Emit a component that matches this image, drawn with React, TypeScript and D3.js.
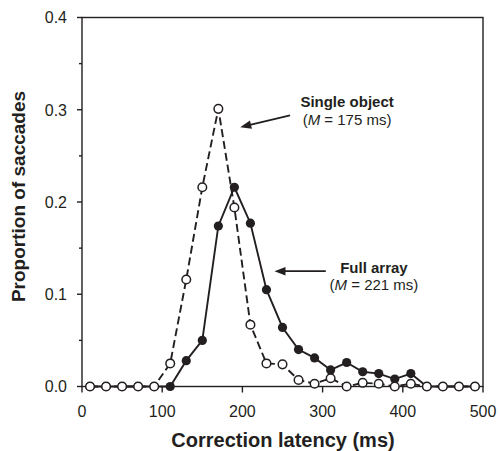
import React from "react";
import * as d3 from "d3";

const latency = [10, 30, 50, 70, 90, 110, 130, 150, 170, 190, 210, 230, 250, 270, 290, 310, 330, 350, 370, 390, 410, 430, 450, 470, 490];
const singleObject = [0, 0, 0, 0, 0, 0.025, 0.116, 0.216, 0.301, 0.194, 0.067, 0.025, 0.024, 0.007, 0.003, 0.009, 0, 0.004, 0.003, 0, 0.003, 0, 0, 0, 0];
const fullArray = [0, 0, 0, 0, 0, 0, 0.028, 0.05, 0.174, 0.216, 0.177, 0.105, 0.064, 0.04, 0.031, 0.018, 0.026, 0.016, 0.014, 0.008, 0.014, 0, 0, 0, 0];
const xTicks = [0, 100, 200, 300, 400, 500];
const yTicks = [0, 0.1, 0.2, 0.3, 0.4];
const yMinorTicks = [0.05, 0.15, 0.25, 0.35];

const W = 500;
const H = 451;
const FONT = "Liberation Sans, Arial, Helvetica, sans-serif";
const INK = "#231f20";

export default function App() {
  const x = d3.scaleLinear().domain([0, 500]).range([82, 483]);
  const y = d3.scaleLinear().domain([0, 0.4]).range([386.5, 17.5]);
  const line = d3
    .line<number>()
    .x((_, i) => x(latency[i]))
    .y((d) => y(d));

  const arrow = (x1: number, y1: number, x2: number, y2: number) => {
    const px1 = x(x1), py1 = y(y1), px2 = x(x2), py2 = y(y2);
    const ang = Math.atan2(py2 - py1, px2 - px1);
    const len = 11, half = 4.2;
    const bx = px2 - len * Math.cos(ang), by = py2 - len * Math.sin(ang);
    const nx = -Math.sin(ang), ny = Math.cos(ang);
    return (
      <g>
        <line x1={px1} y1={py1} x2={bx + 1 * Math.cos(ang)} y2={by + 1 * Math.sin(ang)} stroke={INK} strokeWidth={1.8} />
        <polygon
          points={`${px2},${py2} ${bx + nx * half},${by + ny * half} ${bx - nx * half},${by - ny * half}`}
          fill={INK}
        />
      </g>
    );
  };

  return (
    <svg
      width={W}
      height={H}
      style={{ position: "absolute", left: 0, top: 0, background: "#fff" }}
      fontFamily={FONT}
    >
      {/* frame */}
      <rect x={82} y={17.5} width={401} height={369} fill="none" stroke={INK} strokeWidth={1.4} />
      {/* y ticks */}
      {yTicks.map((t) => (
        <g key={"y" + t}>
          <line x1={77} x2={82} y1={y(t)} y2={y(t)} stroke={INK} strokeWidth={1.4} />
          <text x={67} y={y(t)} dy="0.36em" textAnchor="end" fontSize={16} fill={INK}>
            {t.toFixed(1)}
          </text>
        </g>
      ))}
      {yMinorTicks.map((t) => (
        <line key={"ym" + t} x1={79} x2={82} y1={y(t)} y2={y(t)} stroke={INK} strokeWidth={1.4} />
      ))}
      {/* x ticks */}
      {xTicks.map((t) => (
        <g key={"x" + t}>
          <line x1={x(t)} x2={x(t)} y1={386.5} y2={392.5} stroke={INK} strokeWidth={1.4} />
          <text x={x(t)} y={416.5} textAnchor="middle" fontSize={16} fill={INK}>
            {t}
          </text>
        </g>
      ))}
      {/* axis titles */}
      <text x={283} y={446.5} textAnchor="middle" fontSize={20} fontWeight="bold" fill={INK}>
        Correction latency (ms)
      </text>
      <text
        transform={`translate(25,196.5) rotate(-90)`}
        textAnchor="middle"
        fontSize={19}
        fontWeight="bold"
        fill={INK}
      >
        Proportion of saccades
      </text>

      {/* Full array series */}
      <path d={line(fullArray) ?? ""} fill="none" stroke={INK} strokeWidth={1.9} />
      {fullArray.map((v, i) => (
        <circle key={"f" + i} cx={x(latency[i])} cy={y(v)} r={4.6} fill={INK} />
      ))}
      {/* Single object series */}
      <path d={line(singleObject) ?? ""} fill="none" stroke={INK} strokeWidth={1.9} strokeDasharray="8,4" />
      {singleObject.map((v, i) => (
        <circle key={"s" + i} cx={x(latency[i])} cy={y(v)} r={4.3} fill="#fff" stroke={INK} strokeWidth={1.5} />
      ))}

      {/* annotations */}
      {arrow(259.4, 0.294, 197.3, 0.281)}
      <text x={x(330.5)} y={107} textAnchor="middle" fontSize={15} fontWeight="bold" fill={INK}>
        Single object
      </text>
      <text x={x(330.5)} y={125} textAnchor="middle" fontSize={15} fill={INK}>
        (<tspan fontStyle="italic">M</tspan> = 175 ms)
      </text>
      {arrow(304, 0.125, 240, 0.125)}
      <text x={x(364)} y={272.5} textAnchor="middle" fontSize={15} fontWeight="bold" fill={INK}>
        Full array
      </text>
      <text x={x(364)} y={290} textAnchor="middle" fontSize={15} fill={INK}>
        (<tspan fontStyle="italic">M</tspan> = 221 ms)
      </text>
    </svg>
  );
}
